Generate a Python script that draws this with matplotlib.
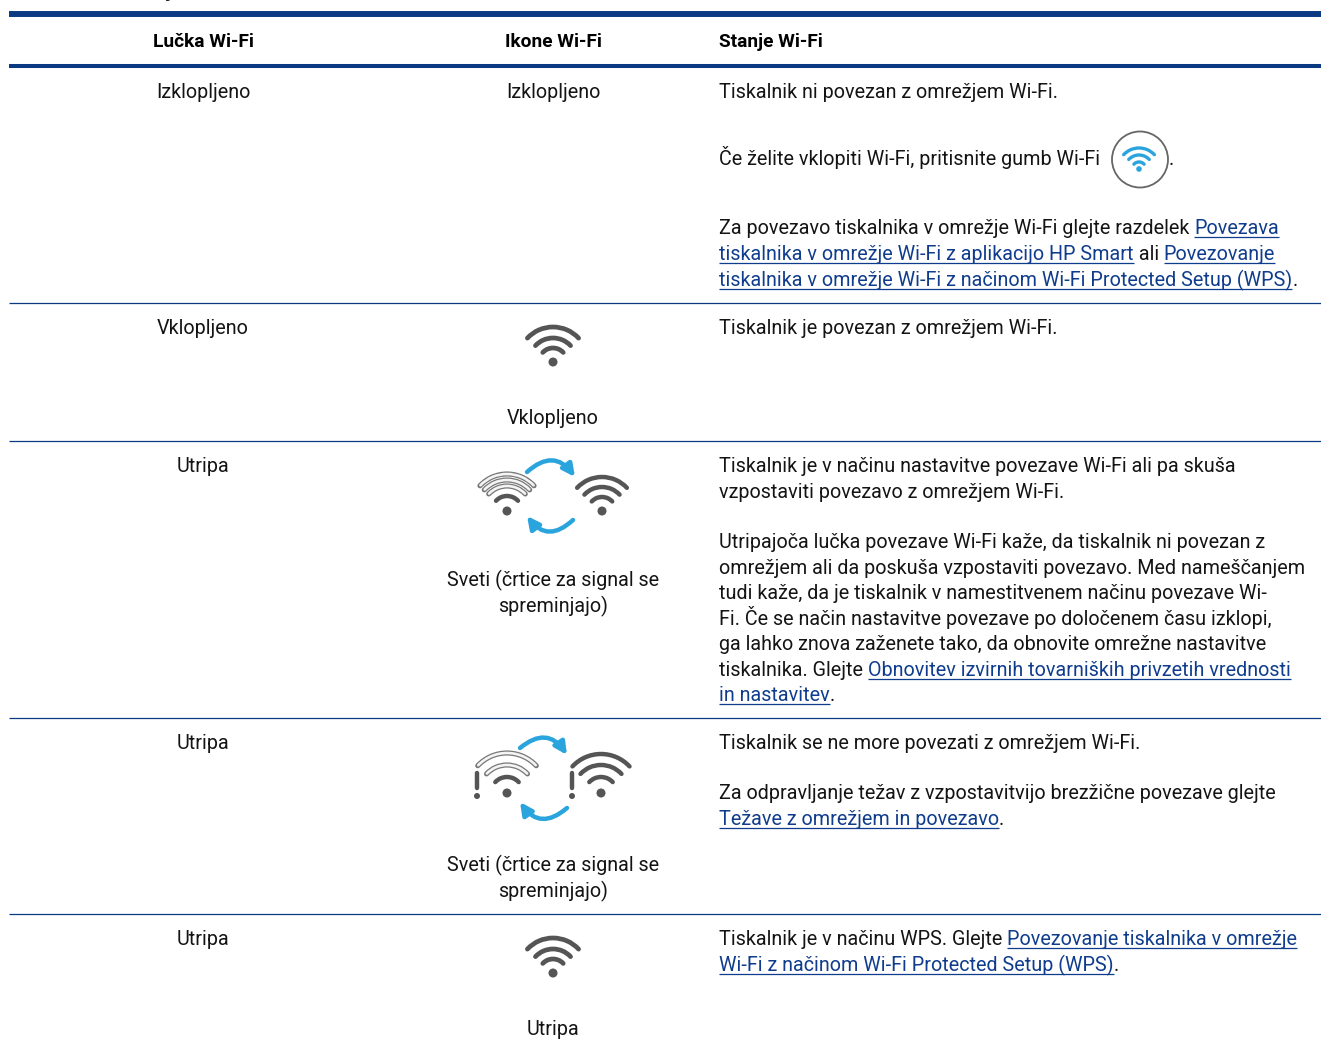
import matplotlib
matplotlib.use('Agg')
import matplotlib.pyplot as plt
from matplotlib.patches import Arc, Circle, FancyArrowPatch

plt.rcParams['font.family'] = ['Roboto', 'DejaVu Sans']

NAVY = '#0b3a82'
LINK = '#0f3c8c'
INK = '#141414'
GREY = '#555555'
BLUE = '#2aa4dd'
FS = 14.2
HEAD_FS = 13.8

HEADERS = ['Lučka Wi-Fi', 'Ikone Wi-Fi', 'Stanje Wi-Fi']
LIGHT_STATE = ['Izklopljeno', 'Vklopljeno', 'Utripa', 'Utripa', 'Utripa']
ICON_CAPTIONS = ['Izklopljeno', 'Vklopljeno', 'Sveti (črtice za signal se', 'spreminjajo)',
                 'Sveti (črtice za signal se', 'spreminjajo)', 'Utripa']

# each line of the third column: list of (text, is link)
STATUS_LINES = [
    [('Tiskalnik ni povezan z omrežjem Wi-Fi.', False)],
    [('Če želite vklopiti Wi-Fi, pritisnite gumb Wi-Fi', False)],
    [('Za povezavo tiskalnika v omrežje Wi-Fi glejte razdelek ', False), ('Povezava', True)],
    [('tiskalnika v omrežje Wi-Fi z aplikacijo HP Smart', True), (' ali ', False), ('Povezovanje', True)],
    [('tiskalnika v omrežje Wi-Fi z načinom Wi-Fi Protected Setup (WPS)', True), ('.', False)],
    [('Tiskalnik je povezan z omrežjem Wi-Fi.', False)],
    [('Tiskalnik je v načinu nastavitve povezave Wi-Fi ali pa skuša', False)],
    [('vzpostaviti povezavo z omrežjem Wi-Fi.', False)],
    [('Utripajoča lučka povezave Wi-Fi kaže, da tiskalnik ni povezan z', False)],
    [('omrežjem ali da poskuša vzpostaviti povezavo. Med nameščanjem', False)],
    [('tudi kaže, da je tiskalnik v namestitvenem načinu povezave Wi-', False)],
    [('Fi. Če se način nastavitve povezave po določenem času izklopi,', False)],
    [('ga lahko znova zaženete tako, da obnovite omrežne nastavitve', False)],
    [('tiskalnika. Glejte ', False), ('Obnovitev izvirnih tovarniških privzetih vrednosti', True)],
    [('in nastavitev', True), ('.', False)],
    [('Tiskalnik se ne more povezati z omrežjem Wi-Fi.', False)],
    [('Za odpravljanje težav z vzpostavitvijo brezžične povezave glejte', False)],
    [('Težave z omrežjem in povezavo', True), ('.', False)],
    [('Tiskalnik je v načinu WPS. Glejte ', False), ('Povezovanje tiskalnika v omrežje', True)],
    [('Wi-Fi z načinom Wi-Fi Protected Setup (WPS)', True), ('.', False)],
]

LIGHT_Y = [98, 334, 472, 749, 945]
CAPTION_Y = [98, 424, 586, 612, 871, 897, 1035]
STATUS_Y = [98, 165, 234, 260, 286, 334, 472, 498, 548, 574, 599, 625, 650, 676, 701, 749, 799, 825, 945, 971]
ROW_RULES = [303, 441, 718, 914]

fig = plt.figure(figsize=(13.21, 10.5), dpi=100)
ax = fig.add_axes([0, 0, 1, 1])
ax.set_xlim(0, 1321)
ax.set_ylim(1050, 0)
ax.axis('off')
renderer = fig.canvas.get_renderer()


def text_width(s):
    # measure with a sentinel so trailing spaces count
    a = ax.text(0, 0, s + '|', fontsize=FS)
    b = ax.text(0, 0, '|', fontsize=FS)
    w = a.get_window_extent(renderer).width - b.get_window_extent(renderer).width
    a.remove()
    b.remove()
    return w


def draw_line(x, y, parts):
    for s, is_link in parts:
        w = text_width(s)
        ax.text(x, y, s, fontsize=FS, color=LINK if is_link else INK, va='baseline', ha='left')
        if is_link:
            ax.plot([x, x + w], [y + 3, y + 3], color=LINK, lw=0.9, solid_capstyle='butt')
        x += w


def arc(cx, cy, r, half, color, lw):
    ax.add_patch(Arc((cx, cy), 2 * r, 2 * r, theta1=270 - half, theta2=270 + half,
                     color=color, lw=lw, capstyle='round'))


def wifi(cx, cy, radii, half=47, color=GREY, lw=3.4, dot=4.5, hollow=()):
    ax.add_patch(Circle((cx, cy), dot, color=color, lw=0))
    for i, r in enumerate(radii):
        if i in hollow:
            arc(cx, cy, r, half, '#777777', 3.7)
            arc(cx, cy, r, half - 1, '#f4f4f4', 1.9)
        else:
            arc(cx, cy, r, half, color, lw)


def bang(x, y0, y1, dot_y):
    ax.plot([x, x], [y0, y1], color=GREY, lw=3.2, solid_capstyle='round')
    ax.add_patch(Circle((x, dot_y), 3, color=GREY, lw=0))


def arrow(p0, p1, rad):
    ax.add_patch(FancyArrowPatch(p0, p1, connectionstyle=f'arc3,rad={rad}', arrowstyle='-|>',
                                 mutation_scale=18, color=BLUE, lw=3.2, shrinkA=0, shrinkB=0))


# rules
ax.plot([9, 1321], [14, 14], color=NAVY, lw=4.3, solid_capstyle='butt')
ax.plot([9, 1321], [65.5, 65.5], color=NAVY, lw=2.9, solid_capstyle='butt')
for y in ROW_RULES:
    ax.plot([9, 1321], [y, y], color=NAVY, lw=0.9, solid_capstyle='butt')

# clipped descender of the heading above the table
ax.text(170, -3, 'j', fontsize=FS, fontweight='bold', color=INK, va='baseline', ha='center')

# headers
ax.text(203, 47, HEADERS[0], fontsize=HEAD_FS, fontweight='bold', color='black', ha='center', va='baseline')
ax.text(553, 47, HEADERS[1], fontsize=HEAD_FS, fontweight='bold', color='black', ha='center', va='baseline')
ax.text(719, 47, HEADERS[2], fontsize=HEAD_FS, fontweight='bold', color='black', ha='left', va='baseline')

for y, s in zip(LIGHT_Y, LIGHT_STATE):
    ax.text(203, y, s, fontsize=FS, color=INK, ha='center', va='baseline')
for y, s in zip(CAPTION_Y, ICON_CAPTIONS):
    ax.text(553, y, s, fontsize=FS, color=INK, ha='center', va='baseline')
for y, parts in zip(STATUS_Y, STATUS_LINES):
    draw_line(719, y, parts)

# button icon with period after it
ax.add_patch(Circle((1140, 159.5), 28, fc='white', ec='#666666', lw=1.3))
wifi(1139, 169, [21, 14, 7], color=BLUE, lw=2.4, dot=2.8)
ax.text(1169, 165, '.', fontsize=FS, color=INK, va='baseline')

# connected icons
wifi(553, 362, [35, 24, 14])
wifi(553, 973, [35, 24, 14])

# connecting icon
wifi(507, 511, [37, 31, 25, 15], lw=3.2, hollow=(0, 1, 2))
wifi(602, 511, [34, 24, 14], lw=3.2)
arrow((527, 472), (575, 477), -0.55)
arrow((573, 520), (527, 516), -0.55)

# failed icon
wifi(507, 793, [40, 28, 16], lw=3.2, hollow=(0, 1))
wifi(601, 793, [39, 28, 16], lw=3.2)
bang(477, 773, 788, 796)
bang(572, 773, 788, 796)
arrow((520, 748), (567, 755), -0.55)
arrow((567, 808), (520, 802), -0.55)

fig.savefig('out.png', dpi=100, facecolor='white')
